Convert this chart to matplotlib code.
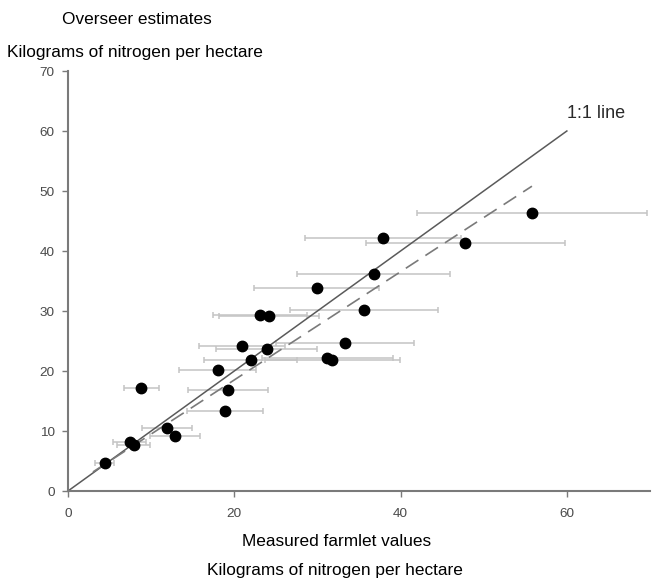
import numpy as np
import matplotlib.pyplot as plt

# measured farmlet values vs Overseer estimates (kg N / ha)
measured = [4.4, 7.4, 7.9, 8.8, 11.9, 12.9, 18.0, 18.9, 19.2, 20.9, 22.0, 23.1,
            23.9, 24.2, 29.9, 31.2, 31.8, 33.3, 35.6, 36.8, 37.9, 47.8, 55.8]
overseer = [4.6, 8.2, 7.6, 17.1, 10.5, 9.1, 20.2, 13.4, 16.8, 24.1, 21.8, 29.3,
            23.6, 29.1, 33.8, 22.1, 21.8, 24.6, 30.1, 36.2, 42.1, 41.4, 46.4]
measured_err = [1.1, 2.0, 2.0, 2.1, 3.0, 3.0, 4.6, 4.6, 4.8, 5.2, 5.6, 5.6,
                6.1, 6.0, 7.5, 7.9, 8.1, 8.3, 8.9, 9.2, 9.4, 12.0, 13.8]

one_to_one = [0, 60]
fit_x = [3, 55.8]
fit_intercept, fit_slope = 0.47, 0.902

plt.rcParams["font.family"] = ["Liberation Sans", "DejaVu Sans"]
fig = plt.figure(figsize=(6.54, 5.82), dpi=100)
ax = fig.add_axes([68 / 654, 91 / 582, 582 / 654, 420 / 582])

ax.errorbar(measured, overseer, xerr=measured_err, fmt="none",
            ecolor="#c4c4c4", elinewidth=1.1, capsize=2.5, capthick=1.1, zorder=1)
ax.plot(one_to_one, one_to_one, "-", color="#5a5a5a", linewidth=1.1, zorder=2)
fx = np.array(fit_x)
ax.plot(fx, fit_intercept + fit_slope * fx, color="#7a7a7a", linewidth=1.2,
        dashes=(9, 5), zorder=2)
ax.plot(measured, overseer, "o", color="black", markersize=7.5, zorder=3)

ax.text(60.0, 63, "1:1 line", fontsize=13, color="#2a2a2a", va="center")

ax.set_xlim(0, 70)
ax.set_ylim(0, 70)
ax.set_xticks([0, 20, 40, 60])
ax.set_yticks(range(0, 71, 10))

for side in ["top", "right"]:
    ax.spines[side].set_visible(False)
for side in ["left", "bottom"]:
    ax.spines[side].set_color("#7a7a7a")
    ax.spines[side].set_linewidth(1.5)
ax.tick_params(axis="both", length=4, width=1, colors="#7a7a7a",
               labelcolor="#4a4a4a", labelsize=9.7, direction="out")
ax.tick_params(axis="x", pad=8)
ax.tick_params(axis="y", pad=5.5)

fig.text(137 / 654, 1 - 20 / 582, "Overseer estimates", fontsize=12.4,
         ha="center", va="center")
fig.text(7 / 654, 1 - 52 / 582, "Kilograms of nitrogen per hectare",
         fontsize=12.4, ha="left", va="center")
fig.text(337 / 654, 1 - 541 / 582, "Measured farmlet values", fontsize=12.4,
         ha="center", va="center")
fig.text(335 / 654, 1 - 571 / 582, "Kilograms of nitrogen per hectare",
         fontsize=12.4, ha="center", va="center")

fig.savefig("out.png", dpi=100)
